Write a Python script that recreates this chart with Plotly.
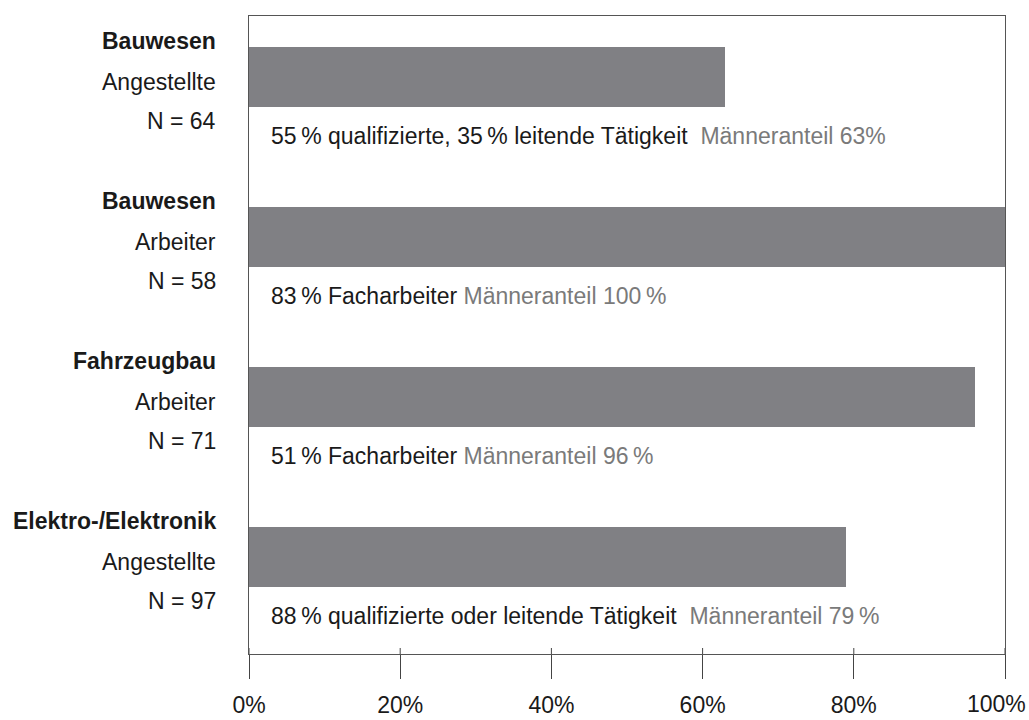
import plotly.graph_objects as go

sectors = ["Bauwesen", "Bauwesen", "Fahrzeugbau", "Elektro-/Elektronik"]
groups = ["Angestellte", "Arbeiter", "Arbeiter", "Angestellte"]
n_values = [64, 58, 71, 97]
male_share = [63, 100, 96, 79]
qualification = [
    "55\u2009% qualifizierte, 35\u2009% leitende Tätigkeit ",
    "83\u2009% Facharbeiter",
    "51\u2009% Facharbeiter",
    "88\u2009% qualifizierte oder leitende Tätigkeit ",
]
male_label = ["Männeranteil 63%", "Männeranteil 100\u2009%",
              "Männeranteil 96\u2009%", "Männeranteil 79\u2009%"]
tick_vals = [0, 20, 40, 60, 80, 100]
tick_text = ["0%", "20%", "40%", "60%", "80%", "100%"]

FONT = "Liberation Sans, Arial, sans-serif"
FS = 23
pos = list(range(len(sectors)))

fig = go.Figure()
fig.add_trace(go.Bar(
    x=male_share, y=pos, orientation="h", width=0.38,
    marker=dict(color="#808084", line=dict(width=0)),
    hoverinfo="skip", showlegend=False,
))

ann = []
for i in pos:
    # left labels
    for dy, txt in [(-0.225, "<b>%s</b>" % sectors[i]), (0.03, groups[i]),
                    (0.275, "N = %d" % n_values[i])]:
        ann.append(dict(x=-0.041, xref="paper", y=i + dy, yref="y", text=txt,
                        showarrow=False, xanchor="right", yanchor="middle",
                        font=dict(size=FS, color="#1a1a1a", family=FONT)))
    # text under bars
    ann.append(dict(x=2.6, xref="x", y=i + 0.37, yref="y",
                    text="%s <span style='color:#7a7a7a'>%s</span>" % (qualification[i], male_label[i]),
                    showarrow=False, xanchor="left", yanchor="middle",
                    font=dict(size=FS, color="#1a1a1a", family=FONT)))

# last tick label sits a bit left of its tick so it stays inside the page
ann.append(dict(x=tick_vals[-1], xref="x", y=0, yref="paper", yshift=-50, xshift=-9,
                text=tick_text[-1], showarrow=False, xanchor="center", yanchor="middle",
                font=dict(size=FS, color="#1a1a1a", family=FONT)))
axis_text = tick_text[:-1] + [""]

# small tick stubs above the bottom axis line
shapes = [dict(type="line", xref="x", yref="paper", x0=t, x1=t, y0=0, y1=6 / 638,
               line=dict(color="#444", width=1)) for t in tick_vals]

fig.update_layout(
    width=1029, height=720,
    margin=dict(l=249, r=24, t=16, b=66, autoexpand=False),
    paper_bgcolor="white", plot_bgcolor="white",
    bargap=0,
    annotations=ann, shapes=shapes,
    font=dict(family=FONT, size=FS, color="#1a1a1a"),
    xaxis=dict(range=[0, 100], tickvals=tick_vals, ticktext=axis_text,
               showgrid=False, zeroline=False, showline=True, mirror=True,
               linecolor="#555", linewidth=1, ticks="outside", ticklen=24,
               tickcolor="#444", tickwidth=1, ticklabelstandoff=6,
               ticklabeloverflow="allow", automargin=False,
               tickfont=dict(size=FS, color="#1a1a1a", family=FONT)),
    yaxis=dict(range=[3.606, -0.381], showticklabels=False, showgrid=False,
               zeroline=False, showline=True, mirror=True, linecolor="#555",
               linewidth=1, ticks="", automargin=False),
)

fig.write_html("out.html", config={"displayModeBar": False},
               post_script="document.body.style.margin='0';")
